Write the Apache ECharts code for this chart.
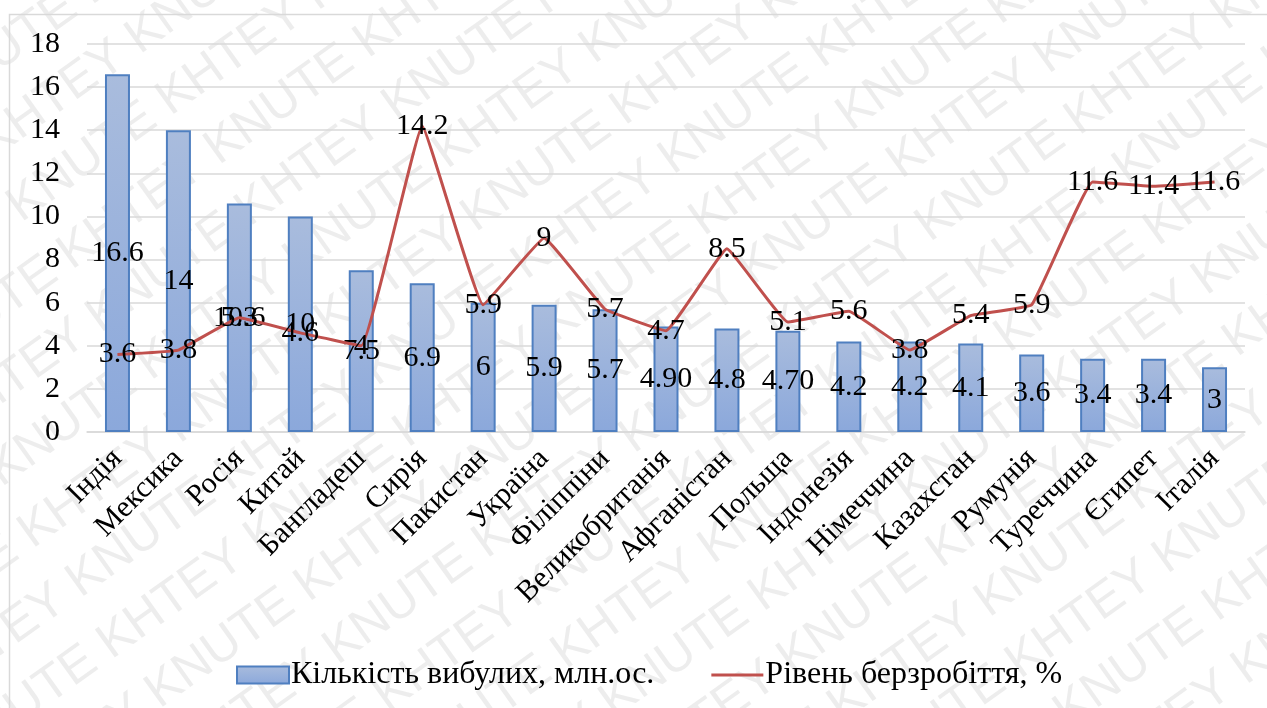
<!DOCTYPE html>
<html>
<head>
<meta charset="utf-8">
<style>
  html, body { margin: 0; padding: 0; background: #ffffff; }
  #chart { width: 1267px; height: 708px; }
</style>
<script src="https://cdn.jsdelivr.net/npm/echarts@6/dist/echarts.min.js"></script>
</head>
<body>
<div id="chart"></div>
<script>
// Countries (x-axis categories)
const countries = ['Індія', 'Мексика', 'Росія', 'Китай', 'Бангладеш', 'Сирія', 'Пакистан',
  'Україна', 'Філіппіни', 'Великобританія', 'Афганістан', 'Польща', 'Індонезія',
  'Німеччина', 'Казахстан', 'Румунія', 'Туреччина', 'Єгипет', 'Італія'];

// Emigrants, million persons (kept as written so labels show the same text)
const emigrants = ['16.6', '14', '10.6', '10', '7.5', '6.9', '6', '5.9', '5.7', '4.90',
  '4.8', '4.70', '4.2', '4.2', '4.1', '3.6', '3.4', '3.4', '3'];

// Unemployment rate, %
const unemployment = [3.6, 3.8, 5.3, 4.6, 4, 14.2, 5.9, 9, 5.7, 4.7, 8.5, 5.1, 5.6,
  3.8, 5.4, 5.9, 11.6, 11.4, 11.6];

// Value axis ticks
const yTicks = [0, 2, 4, 6, 8, 10, 12, 14, 16, 18];

const seriesNames = ['Кількість вибулих, млн.ос.', 'Рівень берзробіття, %'];

const serif = 'Liberation Serif';
const fs = 30;

// Diagonal "KHTEY KNUTE" watermark rows
function watermarkRows() {
  const rows = [];
  const line = 'KHTEY KNUTE '.repeat(12);
  for (let i = -14; i <= 14; i++) {
    rows.push({
      type: 'text',
      x: -1500 + ((i % 2 + 2) % 2) * 170,
      y: i * 68,
      style: {
        text: line,
        font: '50px "Liberation Sans", sans-serif',
        fill: 'rgba(150,150,150,0.17)',
        textVerticalAlign: 'middle'
      }
    });
  }
  return rows;
}

const chart = echarts.init(document.getElementById('chart'), null, { renderer: 'canvas' });

chart.setOption({
  backgroundColor: '#ffffff',
  animation: false,
  textStyle: { fontFamily: serif, color: '#000' },
  grid: { left: 87, right: 22, top: 44, bottom: 276, containLabel: false },
  legend: {
    bottom: 12,
    left: 231,
    itemWidth: 52,
    itemHeight: 17,
    itemGap: 57,
    textStyle: { fontFamily: serif, fontSize: 32, color: '#000', padding: [0, 0, 0, -3] },
    data: [
      { name: seriesNames[0], icon: 'rect' },
      { name: seriesNames[1], icon: 'path://M0,0 L52,0 L52,3 L0,3 Z', itemStyle: { color: '#c0504d' } }
    ]
  },
  xAxis: {
    type: 'category',
    data: countries,
    axisLine: { lineStyle: { color: '#d9d9d9', width: 1.5 } },
    axisTick: { show: false },
    axisLabel: {
      rotate: 45,
      interval: 0,
      margin: 22,
      fontFamily: serif,
      fontSize: fs,
      color: '#000'
    }
  },
  yAxis: {
    type: 'value',
    min: yTicks[0],
    max: yTicks[yTicks.length - 1],
    interval: 2,
    axisLine: { show: false },
    axisTick: { show: false },
    axisLabel: { margin: 27, fontFamily: serif, fontSize: fs, color: '#000' },
    splitLine: { lineStyle: { color: '#d9d9d9', width: 1.5 } }
  },
  series: [
    {
      name: seriesNames[0],
      type: 'bar',
      data: emigrants,
      barWidth: 25,
      itemStyle: {
        color: new echarts.graphic.LinearGradient(0, 0, 0, 1, [
          { offset: 0, color: '#a9bcdd' },
          { offset: 1, color: '#8ba8db' }
        ]),
        borderColor: '#4f7fc0',
        borderWidth: 2
      },
      label: {
        show: true,
        position: 'inside',
        fontFamily: serif,
        fontSize: fs,
        color: '#000',
        formatter: p => emigrants[p.dataIndex]
      },
      z: 2
    },
    {
      name: seriesNames[1],
      type: 'line',
      data: unemployment,
      smooth: 0.08,
      symbol: 'circle',
      symbolSize: 0.5,
      showSymbol: true,
      lineStyle: { color: '#c0504d', width: 3 },
      itemStyle: { color: '#c0504d' },
      label: {
        show: true,
        position: 'inside',
        fontFamily: serif,
        fontSize: fs,
        color: '#000'
      },
      z: 3
    }
  ],
  graphic: [
    {
      type: 'rect',
      shape: { x: 9.5, y: 14.5, width: 1400, height: 900 },
      style: { fill: 'none', stroke: '#d9d9d9', lineWidth: 1.5 },
      z: 1
    },
    {
      type: 'group',
      x: 633,
      y: 354,
      rotation: 0.62,
      silent: true,
      z: 100,
      children: watermarkRows()
    }
  ]
});
</script>
</body>
</html>
